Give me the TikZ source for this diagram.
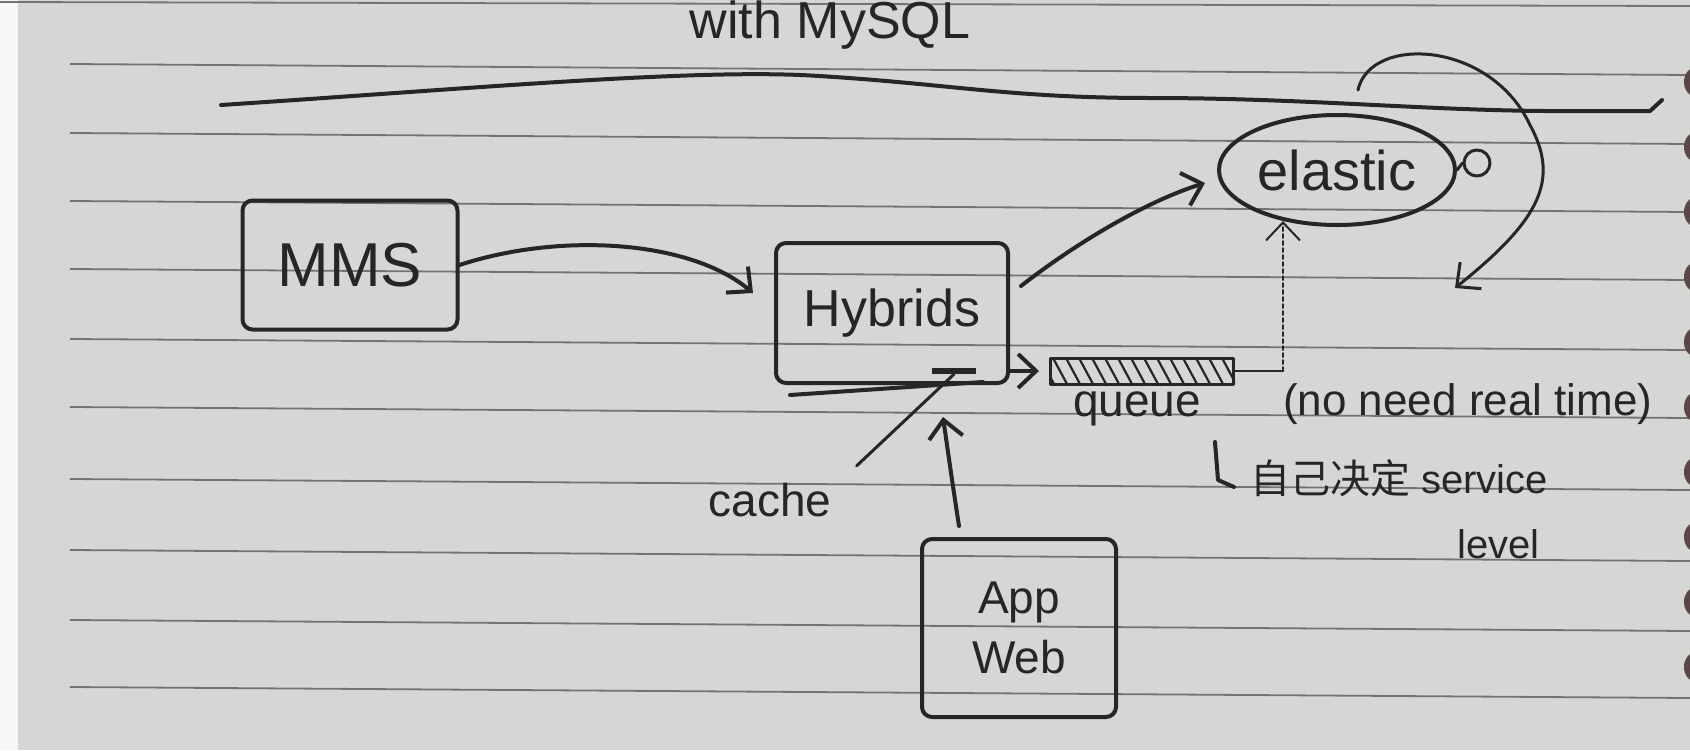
\documentclass[tikz,border=0pt]{standalone}
\usepackage{fontspec}
\setmainfont{Liberation Sans}
\newfontfamily\cjk{Noto Sans CJK SC}
\usetikzlibrary{arrows.meta,shapes.geometric,calc}
\newcommand\hwsize[1]{\fontsize{#1}{#1}\selectfont}
\definecolor{paper}{RGB}{214,214,212}
\definecolor{rulegray}{RGB}{115,115,115}
\definecolor{ink}{RGB}{38,38,38}
\definecolor{ring}{RGB}{90,72,70}
\tikzset{
  pen/.style={draw=ink, line width=4pt, line cap=round, line join=round},
  tip/.style={-{Straight Barb[length=18pt,width=34pt]}},
  arr/.style={pen, tip},
  boxnode/.style={pen, rounded corners=10pt, inner sep=0pt, text=ink},
  lbl/.style={text=ink, inner sep=0pt},
  paperrule/.style={draw=rulegray, line width=1.8pt},
}
\begin{document}
\begin{tikzpicture}[x=1pt,y=-1pt]
\useasboundingbox (0,0) rectangle (1690,750);
\clip (0,0) rectangle (1690,750);
% paper
\fill[paper] (0,0) rectangle (1690,750);
\fill[white!80!paper] (0,0) rectangle (18,750);
\draw[paperrule] (0,2) -- (1690,6);
\foreach \yy in {64,133,201,269,339,407,479,550,620,687}
  \draw[paperrule] (70,\yy) -- (1690,\yy+11);
\foreach \yy in {82,147,212,277,342,407,472,537,602,667}
  \fill[ring] (1694,\yy) ellipse (10pt and 14pt);

% top text and separator
\node[lbl, font=\hwsize{52}, anchor=base] (mysql) at (830,38) {with MySQL};
\draw[pen] (221,105) .. controls (480,88) and (700,68) .. (819,76)
  .. controls (950,84) and (1010,98) .. (1150,98)
  .. controls (1300,98) and (1420,110) .. (1545,111) -- (1650,111) -- (1662,100);

% nodes
\node[boxnode, minimum width=215pt, minimum height=129pt, font=\hwsize{62}] (mms) at (350,265) {MMS};
\node[boxnode, minimum width=232pt, minimum height=140pt, font=\hwsize{52}] (hyb) at (892,313) {Hybrids};
\node[boxnode, minimum width=194pt, minimum height=178pt, font={\fontsize{46}{60}\selectfont}, align=center] (app) at (1019,628) {App\\Web};
\node[ellipse, pen, minimum width=236pt, minimum height=110pt, inner sep=0pt, text=ink, font=\hwsize{56}] (el) at (1337,170) {elastic};
\node[pen, line width=3pt, minimum width=183pt, minimum height=26pt, inner sep=0pt] (queue) at (1142,371) {};
\begin{scope}
  \clip (queue.south west) rectangle (queue.north east);
  \foreach \xx in {1040,1053,...,1240}
    \draw[ink, line width=2.2pt] (\xx,358) -- (\xx+14,384);
\end{scope}
\node[lbl, font=\hwsize{46}, anchor=north] (qlabel) at ($(queue.south)+(-5,6)$) {queue};
\node[circle, pen, line width=3pt, minimum size=26pt, inner sep=0pt] (dot) at (1477,163) {};
\node[lbl, font=\hwsize{46}] (cache) at (770,500) {cache};
\node[fill=ink, minimum width=44pt, minimum height=6pt, inner sep=0pt] (dash) at (954,371) {};
\node[lbl, font=\hwsize{44}, anchor=west] (nrt) at (1283,404) {(no need real time)};
\node[lbl, font=\hwsize{40}, anchor=west] (svc) at (1250,478) {{\cjk 自己决定} service};
\node[lbl, font=\hwsize{40}, anchor=west] (lvl) at (1457,544) {level};

% Hybrids underline and marks
\draw[pen] ($(hyb.south west)+(16,10)$) -- ($(hyb.south east)+(-27,-3)$);
\draw[pen, line width=3pt] (el.east) -- (dot.west);
\draw[pen] (svc.west) ++(-35,-36) -- ++(3,38) -- ++(16,7);

% connectors
\draw[arr] (mms.east) .. controls (560,232) and (690,240) .. ($(hyb.west)+(-21,-20)$);
\draw[arr] ($(hyb.east)+(11,-27)$) .. controls (1080,240) and (1150,200) .. ($(el.west)+(-12,13)$);
\draw[arr] (hyb.east |- queue.west) -- ($(queue.west)+(-10,0)$);
\draw[pen, line width=2.5pt] (queue.east) -- ++(48,0);
\draw[pen, line width=2pt, dash pattern=on 4pt off 3pt, tip]
  ($(queue.east)+(48,0)$) -- ($(el.south)+(-54,-6)$);
\draw[pen, line width=3pt] ($(cache.north east)+(25,-17)$) -- (dash.south);
\draw[arr] ($(app.north)+(-60,-11)$) .. controls (952,480) .. ($(hyb.south)+(51,32)$);
\coordinate (loopend) at (1455,288);
\draw[arr, line width=3pt] ($(el.north)+(21,-23)$) .. controls (1370,35) and (1490,40) .. (1530,125)
  .. controls (1560,180) and (1540,220) .. (loopend);
\end{tikzpicture}
\end{document}
